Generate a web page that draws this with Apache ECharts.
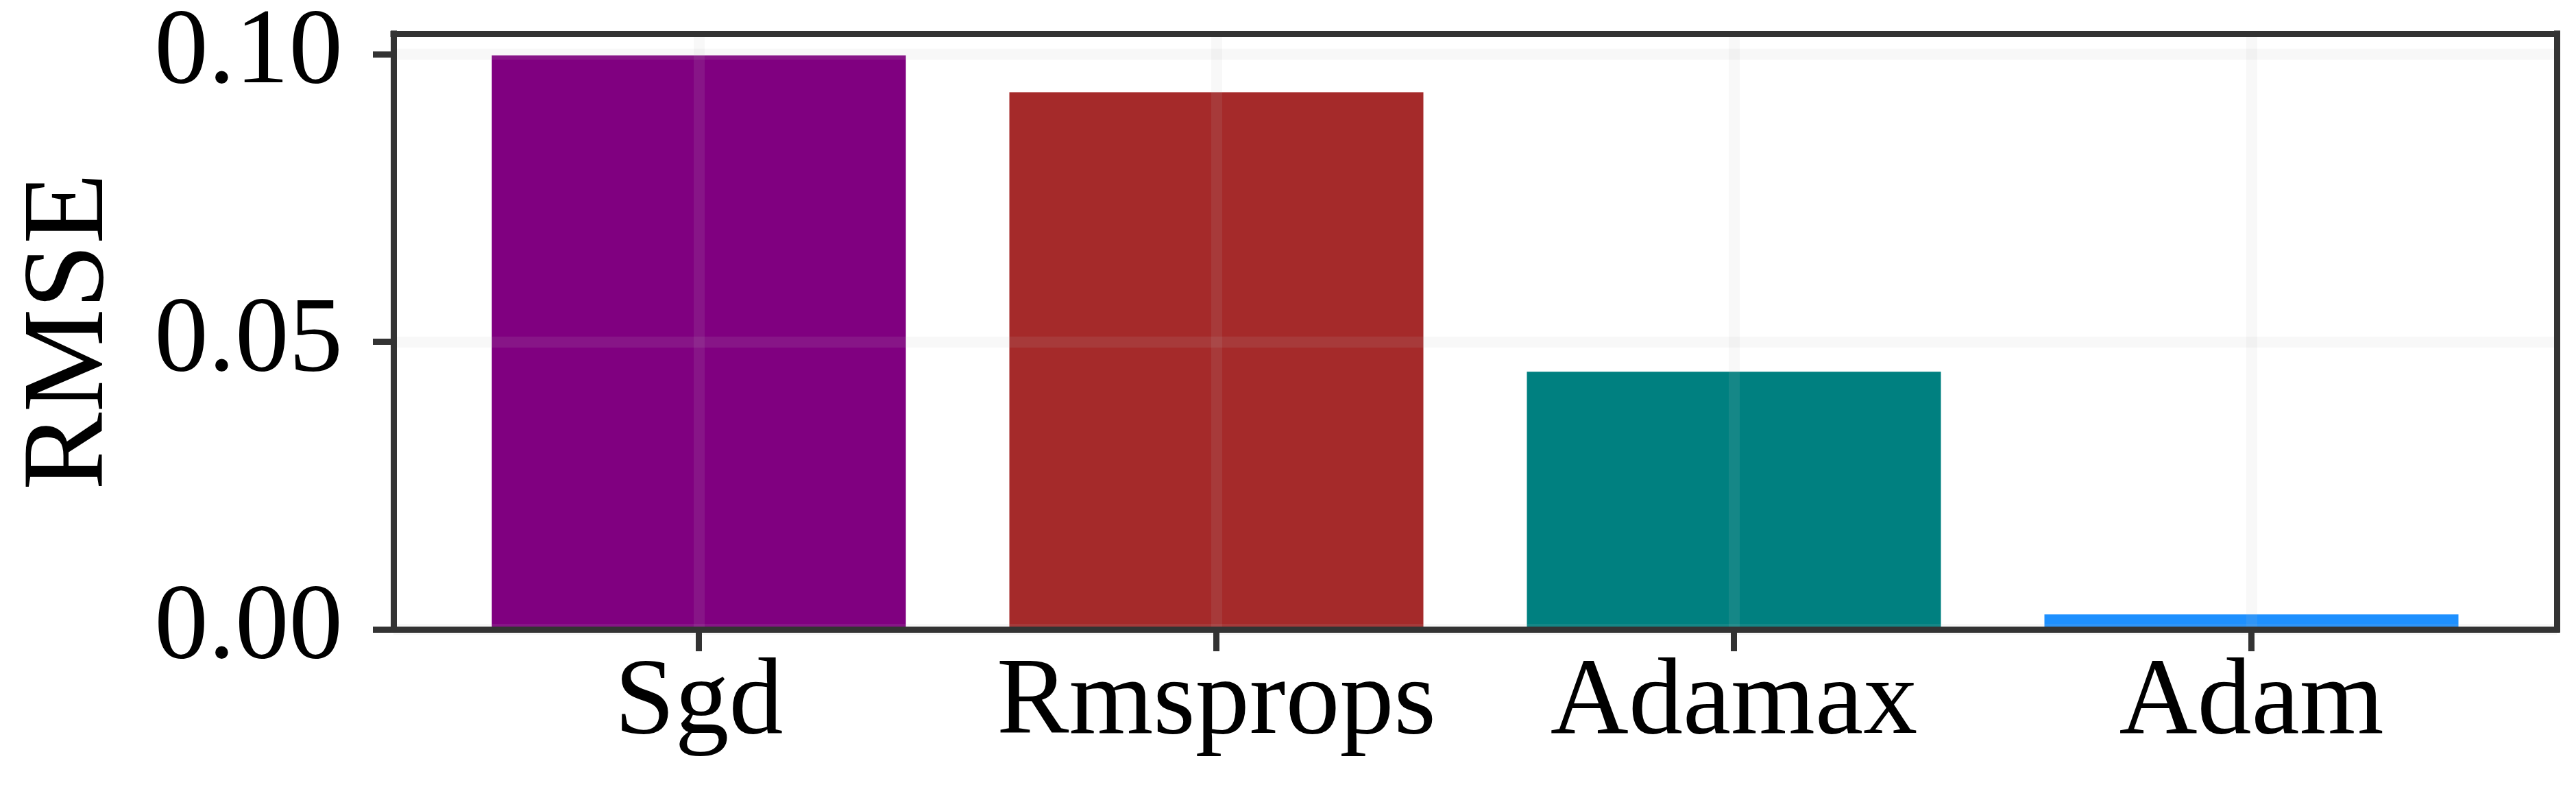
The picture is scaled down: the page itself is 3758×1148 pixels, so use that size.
<!DOCTYPE html>
<html>
<head>
<meta charset="utf-8">
<script src="https://cdn.jsdelivr.net/npm/echarts@6/dist/echarts.min.js"></script>
<style>
html,body{margin:0;padding:0;background:#fff;}
#chart{width:3758px;height:1148px;}
</style>
</head>
<body>
<div id="chart"></div>
<script>
// ---- data ----
const categories = ['Sgd', 'Rmsprops', 'Adamax', 'Adam'];
const rmseValues = [0.0998, 0.0934, 0.0448, 0.0026];
const yTickValues = [0, 0.05, 0.10];
const yAxisMax = 0.1036;

// ---- style ----
const barColors = ['#800080', '#a52a2a', '#008080', '#1e90ff'];
const FONT = 'Liberation Serif';
const LINE = '#333333';
const GRIDLINE = 'rgba(192,192,192,0.11)';

const chart = echarts.init(document.getElementById('chart'), null, {renderer: 'canvas'});

const frameLine = {show: true, onZero: false, lineStyle: {color: LINE, width: 9, cap: 'square'}};
const hidden = {show: false};

const option = {
  animation: false,
  backgroundColor: '#ffffff',
  grid: [
    {left: 574, right: 28, top: 49, bottom: 230, containLabel: false},
    {left: 642, right: 96, top: 49, bottom: 230, containLabel: false}
  ],
  xAxis: [
    {gridIndex: 0, type: 'value', min: 0, max: 1, position: 'bottom', axisLine: frameLine,
     axisTick: hidden, axisLabel: hidden, splitLine: hidden, z: 5},
    {gridIndex: 0, type: 'value', min: 0, max: 1, position: 'top', axisLine: frameLine,
     axisTick: hidden, axisLabel: hidden, splitLine: hidden, z: 5},
    {gridIndex: 1, type: 'category', data: categories, boundaryGap: true,
     axisLine: {show: false, onZero: false},
     axisTick: {show: true, interval: 0, alignWithLabel: true, length: 32, lineStyle: {color: LINE, width: 9}},
     axisLabel: {show: true, interval: 0, fontFamily: FONT, fontSize: 158, color: '#000', margin: 30},
     splitLine: {show: true, interval: 0, alignWithLabel: true, lineStyle: {color: GRIDLINE, width: 16}},
     z: 3}
  ],
  yAxis: [
    {gridIndex: 0, type: 'value', min: 0, max: yAxisMax, interval: 0.05, position: 'left',
     axisLine: frameLine,
     axisTick: {show: true, length: 30, customValues: yTickValues, lineStyle: {color: LINE, width: 9}},
     axisLabel: {show: true, customValues: yTickValues,
                 formatter: v => v.toFixed(2),
                 fontFamily: FONT, fontSize: 157, color: '#000', margin: 74},
     splitLine: {show: true, lineStyle: {color: GRIDLINE, width: 16}},
     name: 'RMSE', nameLocation: 'middle', nameGap: 385,
     nameTextStyle: {fontFamily: FONT, fontSize: 170, color: '#000'},
     z: 3},
    {gridIndex: 0, type: 'value', min: 0, max: 1, position: 'right', axisLine: frameLine,
     axisTick: hidden, axisLabel: hidden, splitLine: hidden, z: 5},
    {gridIndex: 1, type: 'value', min: 0, max: yAxisMax, show: false}
  ],
  series: [{
    type: 'bar',
    xAxisIndex: 2,
    yAxisIndex: 2,
    barWidth: '80%',
    data: rmseValues.map((v, i) => ({value: v, itemStyle: {color: barColors[i]}})),
    z: 2
  }]
};
chart.setOption(option);
</script>
</body>
</html>
